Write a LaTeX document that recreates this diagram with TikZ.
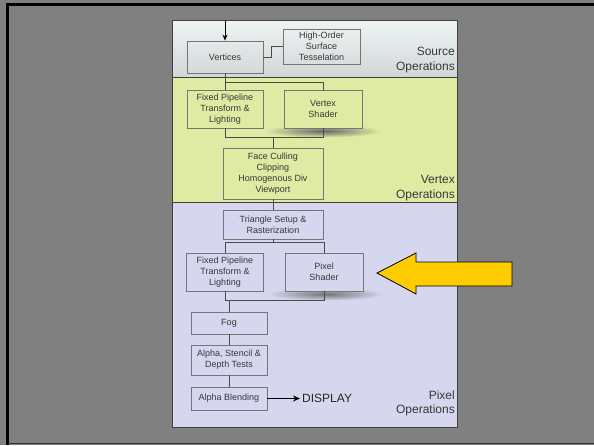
\documentclass[tikz,border=0pt]{standalone}
\usepackage{fontspec}
\setmainfont{Liberation Sans}
\usetikzlibrary{arrows.meta}
\definecolor{slidegray}{HTML}{808080}
\definecolor{srcbg}{HTML}{EEF3F3}
\definecolor{srcbgb}{HTML}{D2D8D8}
\definecolor{vtxbg}{HTML}{DFEAA2}
\definecolor{pixbg}{HTML}{D6D6EE}
\definecolor{boxline}{HTML}{767676}
\definecolor{wire}{HTML}{4A4A4A}
\definecolor{boxtext}{HTML}{383838}
\definecolor{callout}{HTML}{FFCC00}
\tikzset{
  stagebox/.style={draw=boxline, line width=0.8pt, align=center, inner sep=0pt,
    text=boxtext, font=\fontsize{9}{11}\selectfont},
  wireline/.style={draw=wire, line width=0.9pt},
  seclabel/.style={anchor=east, align=right, text=black!78,
    font=\fontsize{12}{14.5}\selectfont, inner sep=0pt},
}
\begin{document}
\begin{tikzpicture}[x=1pt,y=-1pt]
\useasboundingbox (0,0) rectangle (594,445);
% slide background and frame
\fill[slidegray] (0,0) rectangle (594,445);
\draw[black, line width=2.5pt] (7.5,445) -- (7.5,4.5) -- (600,4.5);
\draw[black!80, line width=1pt] (7.5,443.5) -- (600,443.5);

% the three bands of the pipeline
\shade[top color=srcbg, bottom color=srcbgb] (172,20) rectangle (457,77);
\fill[vtxbg] (172,77) rectangle (457,202);
\fill[pixbg] (172,202) rectangle (457,427);
\draw[black!75, line width=0.8pt] (172,20) rectangle (457,427);
\draw[black!75, line width=0.8pt] (172,77) -- (457,77);
\draw[black!75, line width=0.8pt] (172,202) -- (457,202);

% section captions
\node[seclabel] (srclbl) at (455,60) {Source\\Operations};
\node[seclabel] (vtxlbl) at (455,188) {Vertex\\Operations};
\node[seclabel] (pixlbl) at (455,403.5) {Pixel\\Operations};

% soft shadows under the shader stages
\shade[inner color=black!60, outer color=vtxbg] (323,131) ellipse [x radius=58, y radius=6.5];
\shade[inner color=black!55, outer color=pixbg] (326,294) ellipse [x radius=58, y radius=6.5];

% source stages
\node[stagebox, minimum width=76pt, minimum height=32pt] (vert) at (225,57) {Vertices};
\node[stagebox, minimum width=77pt, minimum height=35pt] (hos) at (321.5,46.5) {High-Order\\Surface\\Tesselation};

% vertex stages
\node[stagebox, minimum width=76pt, minimum height=38pt] (fpv) at (225,109) {Fixed Pipeline\\Transform \&\\Lighting};
\node[stagebox, fill=vtxbg, minimum width=78pt, minimum height=38pt] (vsh) at (323,109) {Vertex\\Shader};
\node[stagebox, minimum width=100pt, minimum height=51pt] (cull) at (273,173.5) {Face Culling\\Clipping\\Homogenous Div\\Viewport};

% pixel stages
\node[stagebox, minimum width=100pt, minimum height=29pt] (tri) at (273,224.5) {Triangle Setup \&\\Rasterization};
\node[stagebox, minimum width=77pt, minimum height=38pt] (fpp) at (225,272) {Fixed Pipeline\\Transform \&\\Lighting};
\node[stagebox, fill=pixbg, minimum width=78pt, minimum height=38pt] (psh) at (324,272) {Pixel\\Shader};
\node[stagebox, minimum width=76pt, minimum height=22pt] (fog) at (229,323) {Fog};
\node[stagebox, minimum width=76pt, minimum height=30pt] (ast) at (229,360) {Alpha, Stencil \&\\Depth Tests};
\node[stagebox, minimum width=76pt, minimum height=23pt] (ablend) at (229,398.5) {Alpha Blending};
\node[anchor=west, inner sep=0pt, text=black!85, font=\fontsize{12}{14}\selectfont] (disp) at (302,398.5) {DISPLAY};

% input arrow
\coordinate (input) at (225,21);
\draw[black, line width=0.9pt, -{Stealth[length=6pt,width=5pt]}] (input) -- (vert.north);

% wiring
\draw[wireline] (vert.east) -- ++(8,0) |- (hos.west);
\draw[wireline] (vert.south) -- (vert.south |- fpv.north);
\draw[wireline] (vert.south |- 0,82) -| (vsh.north);
\draw[wireline] (fpv.south) -- ++(0,9) -| (vsh.south);
\draw[wireline] (cull.north) -- ++(0,-11);
\draw[wireline] (cull.south) -- (tri.north);
\draw[wireline] (tri.south) -- ++(0,4);
\draw[wireline] (fpp.north) -- ++(0,-10) -| (psh.north);
\draw[wireline] (fpp.south) -- ++(0,9) -| (psh.south);
\draw[wireline] (fog.north) -- ++(0,-12);
\draw[wireline] (fog.south) -- (ast.north);
\draw[wireline] (ast.south) -- (ablend.north);
\draw[black, line width=1.4pt, -{Stealth[length=7pt,width=6pt]}] (ablend.east) -- ([xshift=-2pt]disp.west);

% callout arrow pointing at the pixel shader
\draw[black, line width=0.8pt, fill=callout]
  (377,273) -- (416,253) -- (416,262) -- (512,262) -- (512,286) -- (416,286) -- (416,294) -- cycle;
\end{tikzpicture}
\end{document}
